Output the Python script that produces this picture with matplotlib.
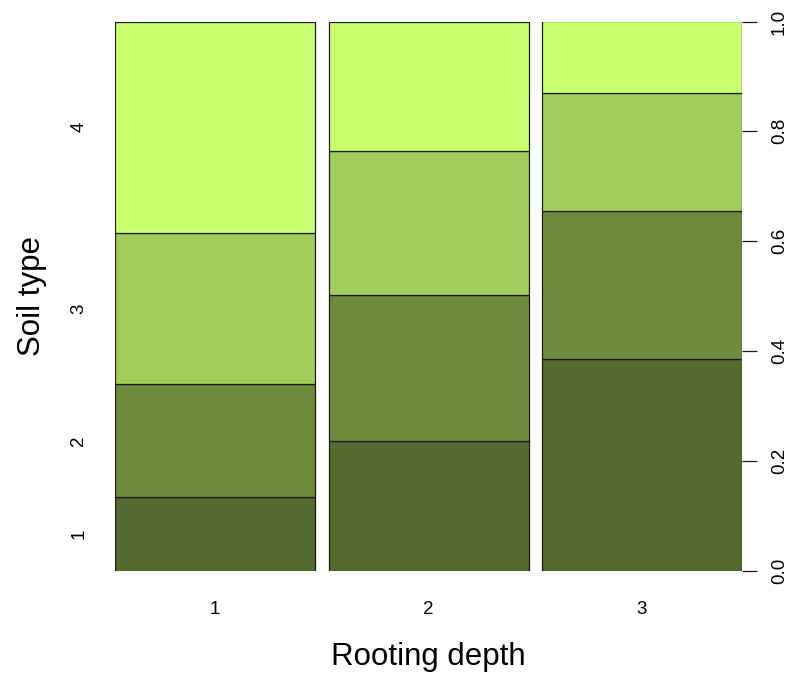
import numpy as np
import matplotlib.pyplot as plt

plt.rcParams['font.family'] = ['Liberation Sans', 'DejaVu Sans']

# spineplot of soil type by rooting depth (conditional proportions)
depth = ['1', '2', '3']
soil = ['1', '2', '3', '4']
props = np.array([
    [0.133, 0.206, 0.276, 0.385],   # depth 1
    [0.235, 0.267, 0.262, 0.236],   # depth 2
    [0.385, 0.270, 0.214, 0.131],   # depth 3
])
colors = ['#556B2F', '#6E8B3D', '#A2CD5A', '#CAFF70']

W, H = 790, 675
fig = plt.figure(figsize=(W / 100, H / 100), dpi=100)
ax = fig.add_axes([115 / W, 104.5 / H, 627 / W, 549 / H])

gap = 0.0675
xs = np.arange(len(depth)) * (1 + gap)
bottoms = np.zeros(len(depth))
for j in range(len(soil)):
    ax.bar(xs, props[:, j], width=1, bottom=bottoms, align='edge',
           color=colors[j], edgecolor='#1a1a1a', linewidth=0.9)
    bottoms += props[:, j]

ax.set_xlim(0, xs[-1] + 1)
ax.set_ylim(0, 1)
for s in ax.spines.values():
    s.set_visible(False)

# left axis: soil labels at the middle of the first column's segments
cum = np.concatenate([[0], np.cumsum(props[0])])
mids = (cum[:-1] + cum[1:]) / 2
ax.set_yticks(mids)
ax.set_yticklabels(soil, rotation=90, va='center', fontsize=13.5)
ax.tick_params(axis='y', length=0, pad=20)

ax.set_xticks(xs + 0.5)
ax.set_xticklabels(depth, fontsize=13.5)
ax.tick_params(axis='x', length=0, pad=22)

# right axis: proportion scale
ax2 = ax.twinx()
ax2.set_ylim(0, 1)
for s in ax2.spines.values():
    s.set_visible(False)
ticks = np.linspace(0, 1, 6)
ax2.set_yticks(ticks)
ax2.set_yticklabels(['%.1f' % t for t in ticks], rotation=90, va='center',
                    fontsize=13.5)
ax2.tick_params(axis='y', length=10.8, width=0.9, pad=10, color='#1a1a1a')

fig.text(428.5 / W, 1 - 657 / H, 'Rooting depth', fontsize=22.5,
         ha='center', va='center')
fig.text(32 / W, 1 - 296 / H, 'Soil type', fontsize=22.5, rotation=90,
         ha='center', va='center')

fig.savefig('out.png', dpi=100)
